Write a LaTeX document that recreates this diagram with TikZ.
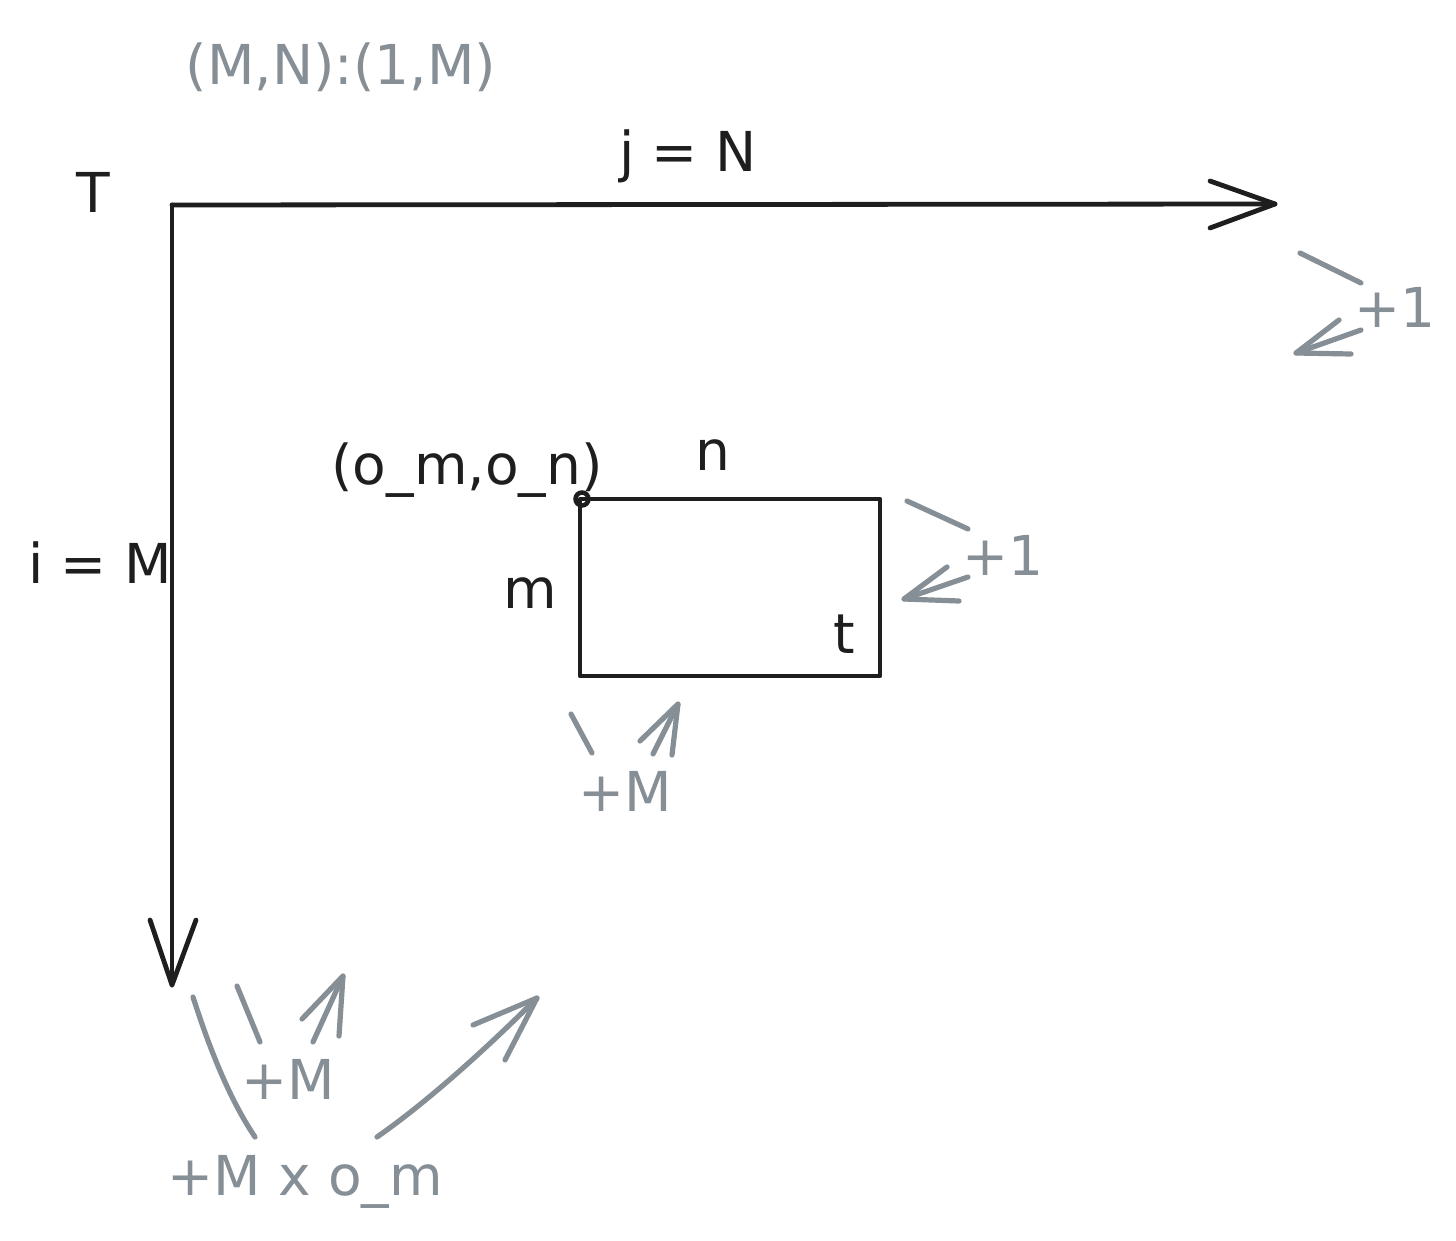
\documentclass[tikz,border=0pt]{standalone}
\usepackage{fontspec}
\setmainfont{DejaVu Sans}
\definecolor{ink}{HTML}{1E1E1E}
\definecolor{sketchgray}{HTML}{868E96}
\begin{document}
\begin{tikzpicture}[x=1pt,y=-1pt,
  lbl/.style={inner sep=0pt,anchor=base,font=\fontsize{55}{60}\selectfont},
  blk/.style={lbl,text=ink},
  gry/.style={lbl,text=sketchgray},
  axis/.style={draw=ink,line width=4.8pt,line cap=round,line join=round},
  stroke/.style={draw=sketchgray,line width=5.2pt,line cap=round,line join=round}]
\useasboundingbox (0,0) rectangle (1456,1241);
\fill[white] (0,0) rectangle (1456,1241);

% texts
\node[gry] (title) at (341,85) {(M,N):(1,M)};
\node[blk] (jN) at (688,172) {j = N};
\node[blk] (T) at (93,213) {T};
\node[blk] (iM) at (100,583) {i = M};
\node[blk] (omn) at (467,484) {(o\_m,o\_n)};
\node[blk] (n) at (713,470) {n};
\node[blk] (m) at (530,608) {m};
\node[blk] (t) at (844,653) {t};
\node[gry] (p1a) at (1395,327) {+1};
\node[gry] (p1b) at (1003,575) {+1};
\node[gry] (pMa) at (625,811) {+M};
\node[gry] (pMb) at (288,1099) {+M};
\node[gry] (pMom) at (305,1195) {+M x o\_m};

% axes
\coordinate (O) at (172,205);
\coordinate (Xend) at (1275,204);
\coordinate (Yend) at (172,985);
\draw[axis] (O) -- (Xend);
\draw[axis] (1210,181) -- (Xend) -- (1210,228);
\draw[axis] (O) -- (Yend);
\draw[axis] (150,920) -- (Yend) -- (196,920);

% tile rectangle
\coordinate (R1) at (580,499);
\coordinate (R2) at (880,676);
\draw[axis] (R1) rectangle (R2);
\draw[draw=ink,line width=4.5pt] (582,499) circle (6.5);

% +1 near j axis
\draw[stroke] (1300,253) -- (1361,283);
\draw[stroke] (1361,330) -- (1296,353);
\draw[stroke] (1339,320) -- (1296,353) -- (1351,354);

% +1 near box
\draw[stroke] (907,501) -- (968,529);
\draw[stroke] (968,577) -- (904,599);
\draw[stroke] (947,567) -- (904,599) -- (959,601);

% +M under box
\draw[stroke] (571,714) -- (592,753);
\draw[stroke] (640,741) -- (678,704) -- (672,755);
\draw[stroke] (653,754) -- (678,704);

% bottom strokes
\draw[stroke] (193,997) .. controls (210,1050) and (230,1100) .. (255,1137);
\draw[stroke] (237,986) -- (260,1042);
\draw[stroke] (302,1019) -- (343,976) -- (339,1036);
\draw[stroke] (313,1042) -- (343,976);
\draw[stroke] (377,1137) .. controls (430,1100) and (490,1045) .. (537,998);
\draw[stroke] (473,1025) -- (537,998) -- (505,1060);
\end{tikzpicture}
\end{document}
